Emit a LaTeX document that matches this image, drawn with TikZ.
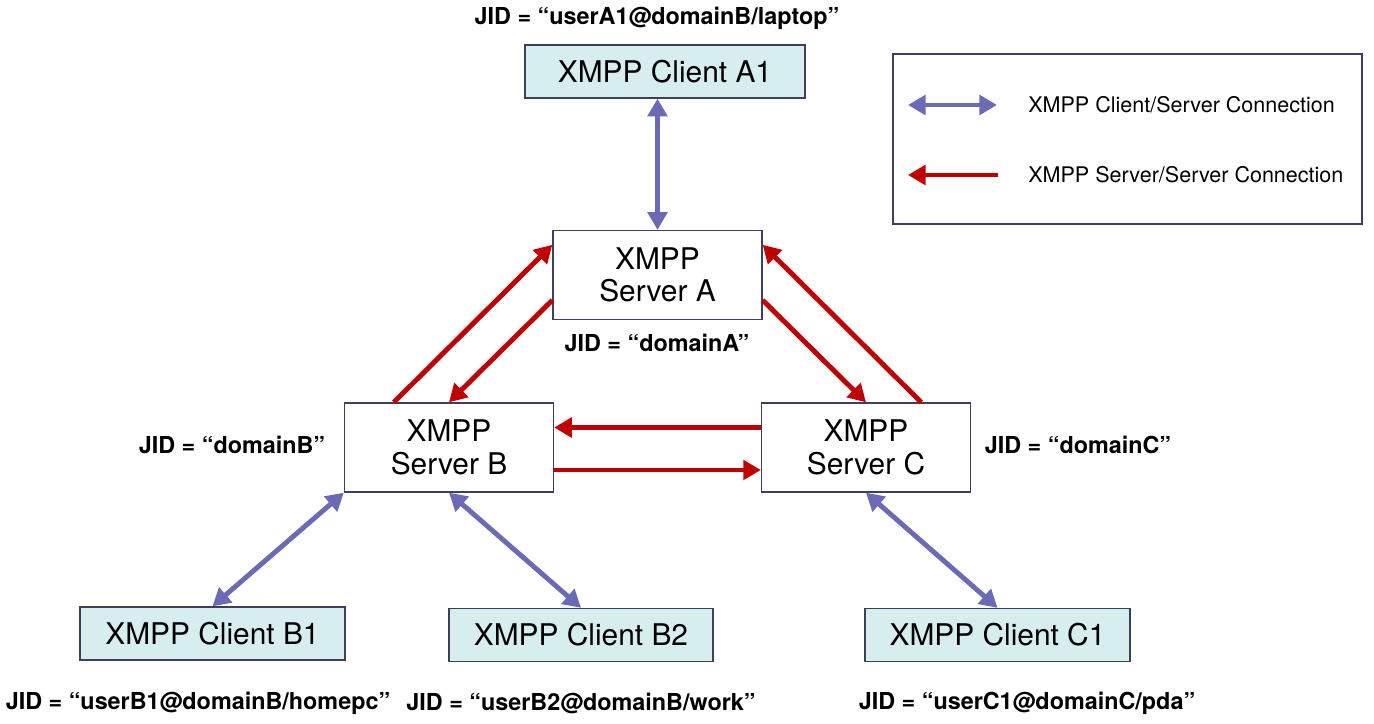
\documentclass[tikz,border=0pt]{standalone}
\usepackage{fontspec}
\setmainfont{TeX Gyre Heros}
\usetikzlibrary{arrows.meta}
\definecolor{clientfill}{RGB}{214,238,238}
\definecolor{boxline}{RGB}{60,64,92}
\definecolor{csblue}{RGB}{106,106,182}
\definecolor{ssred}{RGB}{192,0,0}
\begin{document}
\begin{tikzpicture}[x=0.02cm,y=-0.02cm,
  client/.style={draw=boxline,fill=clientfill,line width=0.8pt,minimum height=1.06cm,inner sep=0pt,font=\fontsize{17}{19}\selectfont},
  server/.style={draw=boxline,fill=white,line width=0.8pt,minimum width=4.18cm,minimum height=1.78cm,inner sep=0pt,align=center,font=\fontsize{17}{18.5}\selectfont},
  jid/.style={inner sep=0pt,font=\fontsize{13.3}{16}\selectfont\bfseries},
  legtext/.style={inner sep=0pt,anchor=west,font=\fontsize{12.25}{14}\selectfont},
  cs/.style={draw=csblue,line width=2.8pt,{Triangle[length=10pt,width=11pt]}-{Triangle[length=10pt,width=11pt]}},
  ss/.style={draw=ssred,line width=2.8pt,-{Triangle[length=10pt,width=11pt]}}]

\useasboundingbox (0,0) rectangle (1374,724);

\node[client,minimum width=5.6cm] (cliA1) at (665,71.5) {XMPP Client A1};
\node[server] (srvA) at (657.5,275) {XMPP\\Server A};
\node[server] (srvB) at (449,447.5) {XMPP\\Server B};
\node[server] (srvC) at (866,447.5) {XMPP\\Server C};
\node[client,minimum width=5.3cm] (cliB1) at (212.5,633.5) {XMPP Client B1};
\node[client,minimum width=5.28cm] (cliB2) at (581,635) {XMPP Client B2};
\node[client,minimum width=5.3cm] (cliC1) at (997.5,635) {XMPP Client C1};

\node[jid] (jidA1) at (657,18) {JID = “userA1@domainB/laptop”};
\node[jid] (jidA) at (657,343) {JID = “domainA”};
\node[jid] (jidB) at (232,445) {JID = “domainB”};
\node[jid] (jidC) at (1078,445) {JID = “domainC”};
\node[jid] (jidB1) at (198,703) {JID = “userB1@domainB/homepc”};
\node[jid] (jidB2) at (581,703) {JID = “userB2@domainB/work”};
\node[jid] (jidC1) at (1027,703) {JID = “userC1@domainC/pda”};

\node[draw=boxline,line width=0.8pt,minimum width=9.38cm,minimum height=3.4cm,inner sep=0pt] (legend) at (1127.5,139) {};
\coordinate (csL) at (908,105);
\coordinate (csR) at (997,105);
\coordinate (ssL) at (908,175);
\coordinate (ssR) at (998,175);
\draw[cs] (csL) -- (csR);
\draw[ss] (ssR) -- (ssL);
\node[legtext] (csText) at (1028,105) {XMPP Client/Server Connection};
\node[legtext] (ssText) at (1028,175) {XMPP Server/Server Connection};

\draw[cs] (cliA1.south -| srvA.north) -- (srvA.north);
\draw[ss] ([xshift=1cm]srvB.north west) -- ([yshift=-0.3cm]srvA.north west);
\draw[ss] ([yshift=0.4cm]srvA.south west) -- (srvB.north);
\draw[ss] ([yshift=0.4cm]srvA.south east) -- (srvC.north);
\draw[ss] ([xshift=-1cm]srvC.north east) -- ([yshift=-0.3cm]srvA.north east);
\draw[ss] ([yshift=0.4cm]srvC.west) -- ([yshift=0.4cm]srvB.east);
\draw[ss] ([yshift=-0.45cm]srvB.east) -- ([yshift=-0.45cm]srvC.west);
\draw[cs] (srvB.south west) -- (cliB1.north);
\draw[cs] (srvB.south) -- (cliB2.north);
\draw[cs] (srvC.south) -- (cliC1.north);
\end{tikzpicture}
\end{document}
